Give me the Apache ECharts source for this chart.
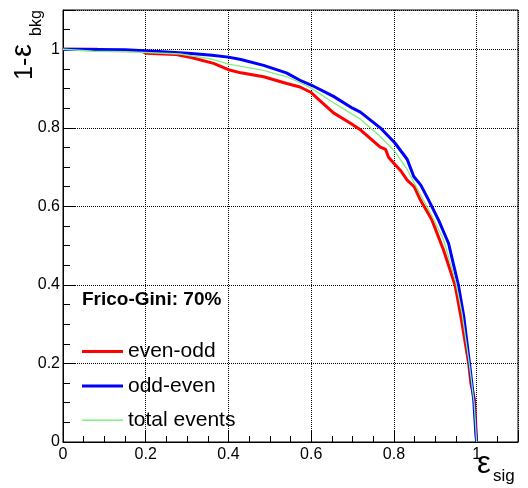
<!DOCTYPE html>
<html>
<head>
<meta charset="utf-8">
<script src="https://cdn.jsdelivr.net/npm/echarts@6/dist/echarts.min.js"></script>
<style>
  html, body { margin: 0; padding: 0; background: #fff; }
  #chart { width: 528px; height: 488px; }
</style>
</head>
<body>
<div id="chart"></div>
<script>
// ROC curves: signal efficiency vs. background rejection for the two folds and the full sample

// even-odd training
const evenOddSig = [0, 0.08, 0.105, 0.19, 0.2, 0.27, 0.31, 0.364, 0.40, 0.43, 0.485, 0.541, 0.573, 0.60, 0.615, 0.654, 0.696, 0.719, 0.767, 0.78, 0.787, 0.802, 0.817, 0.832, 0.849, 0.864, 0.873, 0.892, 0.92, 0.948, 0.962, 0.981, 0.986, 0.995, 1.0];
const evenOddRej = [1.0, 1.0, 0.997, 0.996, 0.990, 0.987, 0.979, 0.964, 0.948, 0.940, 0.930, 0.913, 0.904, 0.890, 0.875, 0.838, 0.811, 0.795, 0.751, 0.745, 0.725, 0.707, 0.690, 0.667, 0.650, 0.616, 0.600, 0.565, 0.489, 0.399, 0.319, 0.198, 0.150, 0.107, 0.0];

// odd-even training
const oddEvenSig = [0, 0.15, 0.22, 0.27, 0.31, 0.36, 0.40, 0.43, 0.485, 0.54, 0.573, 0.60, 0.654, 0.70, 0.719, 0.767, 0.802, 0.832, 0.848, 0.865, 0.884, 0.908, 0.932, 0.956, 0.969, 0.983, 0.993, 0.998, 1.0];
const oddEvenRej = [1.0, 0.999, 0.995, 0.992, 0.989, 0.985, 0.980, 0.974, 0.959, 0.940, 0.921, 0.909, 0.880, 0.850, 0.840, 0.800, 0.762, 0.720, 0.676, 0.654, 0.616, 0.565, 0.506, 0.399, 0.319, 0.198, 0.107, 0.023, 0.0];

// all events
const totalSig = [0, 0.073, 0.15, 0.283, 0.36, 0.40, 0.485, 0.541, 0.573, 0.60, 0.654, 0.719, 0.767, 0.802, 0.832, 0.864, 0.89, 0.92, 0.95, 0.965, 0.982, 0.994, 1.0];
const totalRej = [1.0, 0.995, 0.994, 0.988, 0.975, 0.962, 0.946, 0.930, 0.915, 0.901, 0.864, 0.822, 0.778, 0.740, 0.694, 0.630, 0.580, 0.515, 0.405, 0.325, 0.200, 0.100, 0.0];

const seriesNames = ['even-odd', 'odd-even', 'total events'];
const seriesColors = ['#ff0000', '#0000ff', '#7ff07f'];
const annotation = 'Frico-Gini: 70%';
const axisMax = 1.1;

const FONT = '"Liberation Sans", Arial, Helvetica, sans-serif';

function pairs(xs, ys) {
  return xs.map((x, i) => [x, ys[i]]);
}

function tickText(v) {
  if (v > 1.0001) return '';
  return String(Math.round(v * 10) / 10);
}

// legend key: a horizontal bar of the given thickness centred in a 41x14 box
function lineKey(thickness) {
  const top = (14 - thickness) / 2;
  return 'path://M0,0M41,14M0,' + top + 'h41v' + thickness + 'h-41z';
}

const chart = echarts.init(document.getElementById('chart'), null, { renderer: 'canvas' });

const valueAxis = (isX) => ({
  type: 'value',
  min: 0,
  max: axisMax,
  interval: 0.2,
  position: isX ? 'bottom' : 'left',
  axisLine: { show: true, onZero: false, lineStyle: { color: '#000', width: 1 } },
  axisTick: { show: true, inside: true, length: isX ? 12 : 13, lineStyle: { color: '#000', width: 1 } },
  minorTick: { show: true, splitNumber: 4, length: isX ? 6 : 7, lineStyle: { color: '#000', width: 1 } },
  axisLabel: {
    show: true,
    margin: isX ? 5 : 3,
    color: '#000',
    fontFamily: FONT,
    fontSize: 16,
    showMinLabel: true,
    showMaxLabel: true,
    formatter: tickText
  },
  splitLine: { show: true, lineStyle: { color: '#000', width: 1, type: 'dotted' } },
  minorSplitLine: { show: false }
});

const option = {
  backgroundColor: '#fff',
  animation: false,
  grid: {
    left: 63, right: 10, top: 10, bottom: 46,
    show: true, borderColor: '#000', borderWidth: 1, backgroundColor: 'transparent'
  },
  xAxis: valueAxis(true),
  yAxis: valueAxis(false),
  legend: {
    orient: 'vertical',
    left: 82,
    top: 341,
    padding: 0,
    itemWidth: 41,
    itemHeight: 14,
    itemGap: 13.4,
    textStyle: { fontFamily: FONT, fontSize: 21, color: '#000', lineHeight: 21 },
    data: [
      { name: seriesNames[0], icon: lineKey(3) },
      { name: seriesNames[1], icon: lineKey(3) },
      { name: seriesNames[2], icon: lineKey(1.4) }
    ]
  },
  series: [
    {
      name: seriesNames[0], type: 'line',
      data: pairs(evenOddSig, evenOddRej),
      symbol: 'none', z: 2,
      lineStyle: { color: seriesColors[0], width: 3 }, itemStyle: { color: seriesColors[0] }
    },
    {
      name: seriesNames[1], type: 'line',
      data: pairs(oddEvenSig, oddEvenRej),
      symbol: 'none', z: 3,
      lineStyle: { color: seriesColors[1], width: 3 }, itemStyle: { color: seriesColors[1] }
    },
    {
      name: seriesNames[2], type: 'line',
      data: pairs(totalSig, totalRej),
      symbol: 'none', z: 4,
      lineStyle: { color: seriesColors[2], width: 1.3 }, itemStyle: { color: seriesColors[2] }
    }
  ],
  graphic: [
    // y axis title: 1-ε_bkg, read bottom to top
    { type: 'text', x: 25.5, y: 80, rotation: Math.PI / 2,
      style: { text: '1-', font: '25px ' + FONT, fill: '#000', align: 'left', verticalAlign: 'middle' } },
    { type: 'text', x: 23, y: 57, rotation: Math.PI / 2,
      style: { text: 'ε', font: '29px ' + FONT, fill: '#000', align: 'left', verticalAlign: 'middle' } },
    { type: 'text', x: 36.5, y: 36, rotation: Math.PI / 2,
      style: { text: 'bkg', font: '16px ' + FONT, fill: '#000', align: 'left', verticalAlign: 'middle' } },
    // x axis title: ε_sig
    { type: 'text', x: 477, y: 464,
      style: { text: 'ε', font: '31px ' + FONT, fill: '#000', align: 'left', verticalAlign: 'middle' } },
    { type: 'text', x: 493, y: 476,
      style: { text: 'sig', font: '17px ' + FONT, fill: '#000', align: 'left', verticalAlign: 'middle' } },
    // classifier annotation
    { type: 'text', x: 82, y: 300,
      style: { text: annotation, font: 'bold 19px ' + FONT, fill: '#000', align: 'left', verticalAlign: 'middle' } }
  ]
};

chart.setOption(option);
</script>
</body>
</html>
